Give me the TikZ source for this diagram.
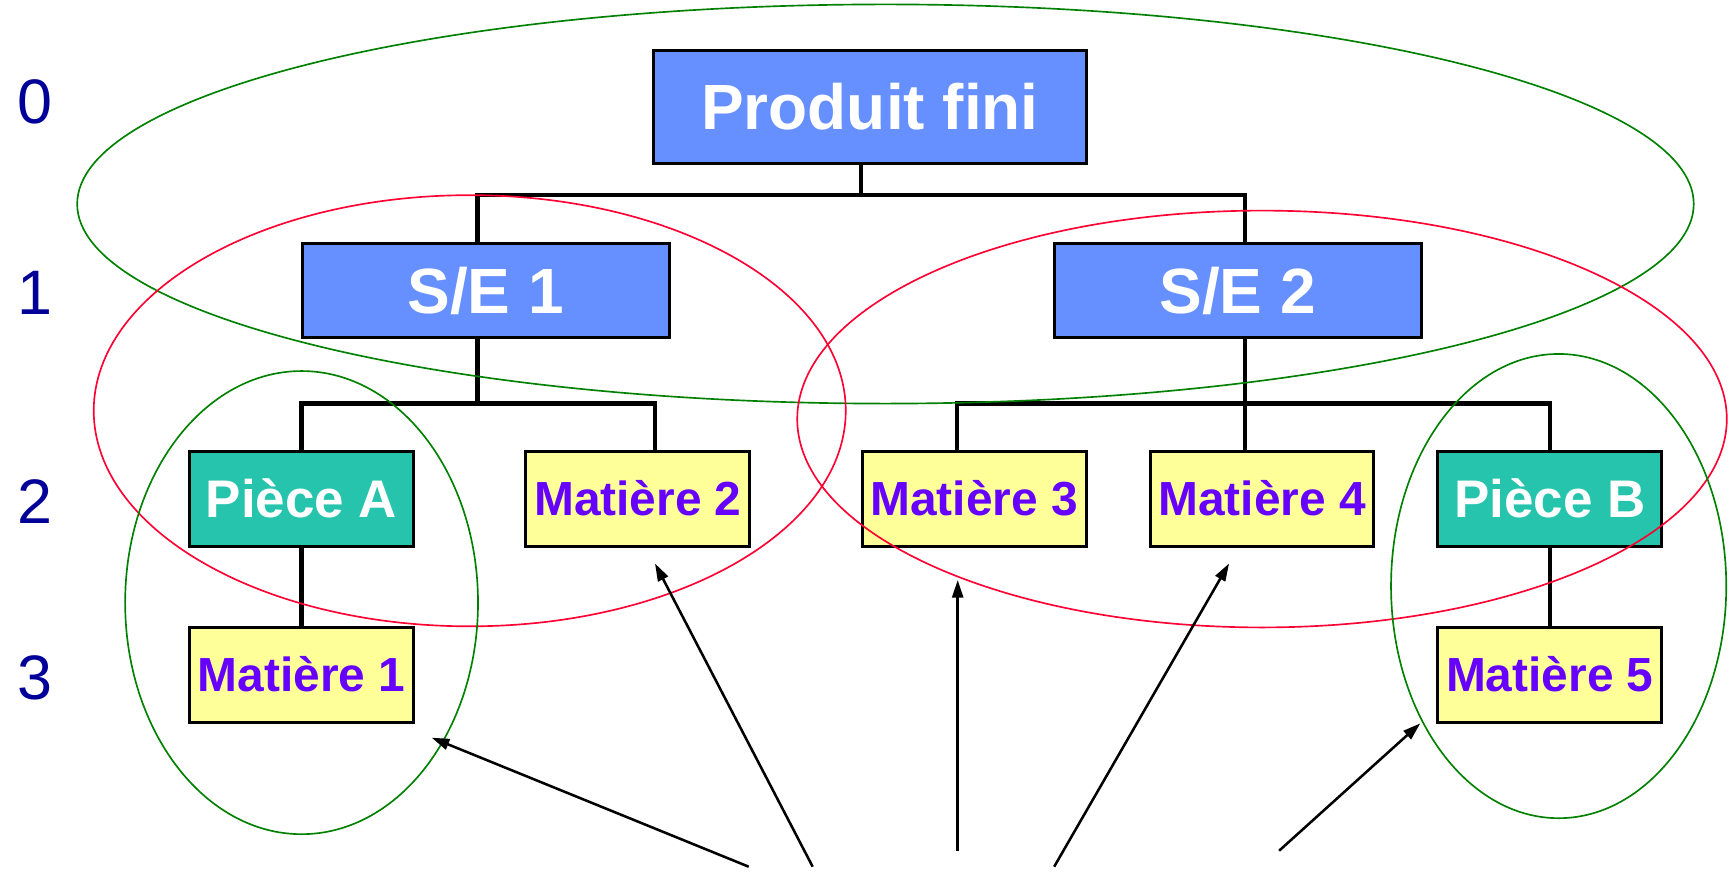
\documentclass[tikz,border=0pt]{standalone}
\usepackage{fontspec}
\setmainfont{Liberation Sans}
\usetikzlibrary{arrows.meta}
\definecolor{boxblue}{RGB}{102,143,255}
\definecolor{boxteal}{RGB}{38,196,172}
\definecolor{boxyellow}{RGB}{255,255,153}
\definecolor{txtpurple}{RGB}{102,0,255}
\definecolor{lvlblue}{RGB}{0,0,153}
\definecolor{ringgreen}{RGB}{0,128,0}
\definecolor{ringred}{RGB}{255,0,51}
\begin{document}
\begin{tikzpicture}[x=0.5pt,y=-0.5pt,
  box/.style={draw=black,line width=1.35pt,inner sep=0pt,text depth=0pt},
  topbox/.style={box,fill=boxblue,text=white,minimum width=196pt,minimum height=51pt,
    font=\fontsize{29}{30}\selectfont\bfseries,text height=20.8pt},
  subbox/.style={box,fill=boxblue,text=white,minimum width=166.5pt,minimum height=43pt,
    font=\fontsize{29}{30}\selectfont\bfseries,text height=20.8pt},
  piecebox/.style={box,fill=boxteal,text=white,minimum width=101.5pt,minimum height=43pt,
    font=\fontsize{24}{26}\selectfont\bfseries,text height=17.2pt},
  matbox/.style={box,fill=boxyellow,text=txtpurple,minimum width=101.5pt,minimum height=43pt,
    font=\fontsize{21.7}{24}\selectfont\bfseries,text height=15.5pt},
  lvl/.style={inner sep=0pt,text=lvlblue,font=\fontsize{28.5}{30}\selectfont,text height=20.4pt,text depth=0pt},
  conn/.style={draw=black,line width=1.9pt},
  gring/.style={draw=ringgreen,line width=0.75pt},
  rring/.style={draw=ringred,line width=0.75pt},
  pointer/.style={draw=black,line width=1.15pt,-{Triangle[length=8pt,width=5pt]}}
]
\useasboundingbox (0,0) rectangle (1568,791);

% level numbers
\node[lvl] (l0) at (32,92) {0};
\node[lvl] (l1) at (32,265) {1};
\node[lvl] (l2) at (32,454) {2};
\node[lvl] (l3) at (32,614) {3};

% boxes
\node[topbox] (pf) at (789,97) {Produit fini};
\node[subbox] (se1) at (440.5,263.5) {S/E 1};
\node[subbox] (se2) at (1122.5,263.5) {S/E 2};
\node[piecebox] (pa) at (273.5,452.3) {Pièce A};
\node[matbox] (m2) at (578.5,452.3) {Matière 2};
\node[matbox] (m3) at (883.5,452.3) {Matière 3};
\node[matbox] (m4) at (1144.5,452.3) {Matière 4};
\node[piecebox] (pb) at (1405.5,452.3) {Pièce B};
\node[matbox] (m1) at (273.5,612) {Matière 1};
\node[matbox] (m5) at (1405.5,612) {Matière 5};

% connector columns and buses
\coordinate (bus0) at (781,177);
\coordinate (k1) at (433,0);
\coordinate (k2) at (1129,0);
\coordinate (k3) at (594,0);
\coordinate (k4) at (868,0);
\coordinate (bus1) at (433,366);
\coordinate (bus2) at (1129,366);

\draw[conn] (pf.south -| bus0) -- (bus0);
\draw[conn] (se1.north -| k1) |- (bus0) -| (se2.north -| k2);
\draw[conn] (se1.south -| k1) -- (bus1);
\draw[conn] (pa.north) |- (bus1) -| (m2.north -| k3);
\draw[conn] (se2.south -| k2) -- (m4.north -| k2);
\draw[conn] (m3.north -| k4) |- (bus2) -| (pb.north);
\draw[conn] (pa.south) -- (m1.north);
\draw[conn] (pb.south) -- (m5.north);

% grouping ellipses
\draw[gring] (803,185) ellipse [x radius=733, y radius=181];
\draw[rring] (426,372.5) ellipse [x radius=341, y radius=195.5];
\draw[rring] (1144.5,380) ellipse [x radius=421.5, y radius=189];
\draw[gring] (273.5,546.5) ellipse [x radius=160, y radius=210];
\draw[gring] (1413.5,531.5) ellipse [x radius=152, y radius=210.5];

% pointer arrows
\coordinate (s1) at (679,786);   \coordinate (e1) at (391.5,669);
\coordinate (s2) at (737,786);   \coordinate (e2) at (594,511);
\coordinate (s3) at (868.5,771.5); \coordinate (e3) at (868.5,526);
\coordinate (s4) at (956,786);   \coordinate (e4) at (1114.6,511);
\coordinate (s5) at (1160,771.5); \coordinate (e5) at (1288,656);
\draw[pointer] (s1) -- (e1);
\draw[pointer] (s2) -- (e2);
\draw[pointer] (s3) -- (e3);
\draw[pointer] (s4) -- (e4);
\draw[pointer] (s5) -- (e5);
\end{tikzpicture}
\end{document}
